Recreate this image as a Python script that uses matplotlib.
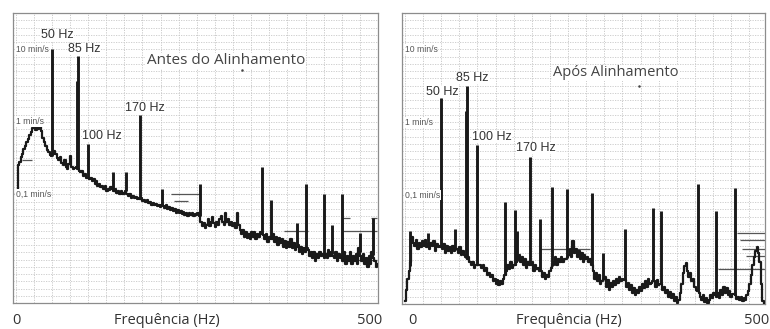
import numpy as np
import matplotlib
matplotlib.use("Agg")
from matplotlib import pyplot as plt

# espectro de 0 a 500 Hz, uma leitura a cada 2 Hz (mm/s)
freq = np.arange(0, 501, 2)

antes_amp = [
    0.10, 0.10, 0.25, 0.28, 0.33, 0.36, 0.42, 0.46, 0.52, 0.58,
    0.66, 0.72, 0.82, 0.88, 0.78, 0.92, 0.80, 0.98, 0.75, 0.60,
    0.52, 0.46, 0.41, 0.38, 0.35, 0.34, 0.36, 0.40, 0.36, 0.32,
    0.30, 0.33, 0.27, 0.25, 0.30, 0.24, 0.22, 0.26, 0.34, 0.24,
    0.22, 0.23, 0.24, 0.22, 0.21, 0.20, 0.21, 0.18, 0.19, 0.17,
    0.17, 0.16, 0.17, 0.15, 0.16, 0.14, 0.15, 0.13, 0.14, 0.125,
    0.13, 0.12, 0.13, 0.11, 0.12, 0.115, 0.125, 0.12, 0.11, 0.12,
    0.105, 0.11, 0.10, 0.11, 0.10, 0.105, 0.11, 0.10, 0.095, 0.10,
    0.09, 0.095, 0.088, 0.092, 0.085, 0.09, 0.085, 0.088, 0.08, 0.084,
    0.078, 0.082, 0.075, 0.078, 0.072, 0.076, 0.07, 0.074, 0.068, 0.072,
    0.066, 0.07, 0.068, 0.064, 0.07, 0.062, 0.066, 0.06, 0.064, 0.058,
    0.062, 0.056, 0.06, 0.055, 0.058, 0.053, 0.057, 0.052, 0.056, 0.05,
    0.055, 0.052, 0.056, 0.05, 0.054, 0.052, 0.055, 0.05, 0.042, 0.036,
    0.04, 0.034, 0.038, 0.045, 0.036, 0.042, 0.048, 0.04, 0.035, 0.042,
    0.038, 0.046, 0.05, 0.042, 0.038, 0.055, 0.042, 0.046, 0.038, 0.042,
    0.036, 0.04, 0.034, 0.055, 0.038, 0.032, 0.028, 0.032, 0.026, 0.03,
    0.025, 0.028, 0.024, 0.03, 0.026, 0.03, 0.024, 0.028, 0.026, 0.03,
    0.028, 0.027, 0.024, 0.028, 0.022, 0.026, 0.025, 0.024, 0.028, 0.022,
    0.026, 0.02, 0.025, 0.021, 0.024, 0.019, 0.023, 0.018, 0.022, 0.019,
    0.024, 0.018, 0.021, 0.017, 0.019, 0.02, 0.016, 0.019, 0.015, 0.018,
    0.016, 0.018, 0.017, 0.014, 0.016, 0.013, 0.016, 0.012, 0.015, 0.013,
    0.016, 0.014, 0.015, 0.013, 0.015, 0.013, 0.017, 0.014, 0.016, 0.014,
    0.013, 0.016, 0.012, 0.015, 0.013, 0.014, 0.012, 0.016, 0.011, 0.014,
    0.012, 0.016, 0.011, 0.014, 0.012, 0.015, 0.011, 0.018, 0.014, 0.012,
    0.015, 0.011, 0.013, 0.01, 0.014, 0.011, 0.016, 0.013, 0.012, 0.01,
    0.011,
]

apos_amp = [
    0.0035, 0.005, 0.007, 0.009, 0.012, 0.026, 0.022, 0.02, 0.024, 0.018,
    0.022, 0.019, 0.023, 0.02, 0.024, 0.019, 0.021, 0.018, 0.022, 0.02,
    0.023, 0.017, 0.021, 0.019, 0.02, 0.019, 0.018, 0.021, 0.016, 0.02,
    0.017, 0.019, 0.016, 0.02, 0.017, 0.018, 0.018, 0.016, 0.019, 0.015,
    0.017, 0.015, 0.014, 0.013, 0.014, 0.012, 0.011, 0.012, 0.010, 0.011,
    0.011, 0.011, 0.011, 0.01, 0.011, 0.009, 0.01, 0.008, 0.0085, 0.0075,
    0.008, 0.0065, 0.007, 0.006, 0.0068, 0.0058, 0.0065, 0.006, 0.007, 0.008,
    0.009, 0.011, 0.0095, 0.012, 0.01, 0.011, 0.011, 0.012, 0.013, 0.015,
    0.012, 0.014, 0.011, 0.013, 0.01, 0.012, 0.011, 0.011, 0.012, 0.009,
    0.011, 0.0095, 0.01, 0.009, 0.009, 0.0075, 0.0085, 0.007, 0.008, 0.0075,
    0.009, 0.01, 0.011, 0.012, 0.014, 0.011, 0.013, 0.012, 0.014, 0.012,
    0.013, 0.013, 0.014, 0.015, 0.018, 0.014, 0.023, 0.016, 0.018, 0.014,
    0.017, 0.013, 0.016, 0.012, 0.015, 0.013, 0.014, 0.012, 0.013, 0.011,
    0.009, 0.007, 0.0085, 0.0065, 0.008, 0.006, 0.0065, 0.007, 0.0075, 0.0055,
    0.0068, 0.005, 0.0062, 0.0055, 0.0065, 0.0058, 0.007, 0.0062, 0.0075, 0.0065,
    0.007, 0.0068, 0.0068, 0.0055, 0.0062, 0.005, 0.0058, 0.0045, 0.0052, 0.0042,
    0.005, 0.0045, 0.0055, 0.0048, 0.006, 0.0052, 0.0065, 0.0055, 0.007, 0.006,
    0.0062, 0.0065, 0.0065, 0.0055, 0.0068, 0.0058, 0.006, 0.006, 0.005, 0.0055,
    0.0045, 0.005, 0.004, 0.0046, 0.0038, 0.0043, 0.0035, 0.004, 0.0033, 0.0036,
    0.0045, 0.006, 0.0085, 0.0105, 0.0115, 0.009, 0.0075, 0.0085, 0.0065, 0.007,
    0.0055, 0.005, 0.0048, 0.0045, 0.004, 0.0036, 0.0042, 0.0034, 0.0038, 0.0033,
    0.0036, 0.0042, 0.0038, 0.0045, 0.0042, 0.004, 0.0045, 0.0038, 0.005, 0.0042,
    0.0055, 0.0045, 0.0052, 0.0042, 0.0048, 0.0039, 0.0044, 0.0043, 0.0042, 0.0037,
    0.004, 0.0036, 0.0039, 0.0035, 0.0038, 0.0036, 0.0042, 0.0048, 0.006, 0.008,
    0.011, 0.014, 0.017, 0.019, 0.016, 0.012, 0.006, 0.0035, 0.0032, 0.0032,
    0.0032,
]

# picos estreitos (Hz, mm/s)
antes_pico_freq = [50, 84.5, 86, 100, 134, 152, 172, 202, 254, 340, 352, 388, 401, 425, 437, 451, 475, 493]
antes_pico_amp = [10.0, 3.6, 8.1, 0.50, 0.2, 0.2, 1.24, 0.12, 0.14, 0.24, 0.083, 0.04, 0.14, 0.1, 0.038, 0.1, 0.029, 0.047]

apos_pico_freq = [7, 32, 50, 69, 84.5, 86, 100, 138, 152, 155, 172, 186, 203, 223, 258, 273, 303, 342, 353, 404, 429, 455]
apos_pico_amp = [0.032, 0.03, 2.13, 0.034, 1.4, 3.1, 0.49, 0.08, 0.061, 0.032, 0.33, 0.047, 0.13, 0.12, 0.106, 0.016, 0.034, 0.067, 0.06, 0.14, 0.06, 0.126]

# tracos horizontais do registo (inicio Hz, fim Hz, mm/s)
antes_traco_ini = [9, 215, 219, 370, 452, 452, 490, 470]
antes_traco_fim = [23, 256, 238, 403, 499, 462, 499, 499]
antes_traco_amp = [0.3, 0.1, 0.08, 0.031, 0.031, 0.047, 0.047, 0.0125]

apos_traco_ini = [186, 458, 462, 465, 470, 432]
apos_traco_fim = [255, 497, 497, 497, 497, 497]
apos_traco_amp = [0.018, 0.030, 0.024, 0.018, 0.0146, 0.0096]

antes_ponto = (312, 5.2)
apos_ponto = (323, 3.1)

niveis = [10, 1, 0.1]
niveis_txt = ["10 min/s", "1 min/s", "0,1 min/s"]

W, H = 770, 329


def px(x, y):
    return x / W, 1 - y / H


def painel(ax, amp, pf, pa, t0, t1, ta, ponto, xlim):
    ax.set_yscale("log")
    ax.set_xlim(*xlim)
    ax.set_ylim(10 ** -2.5, 10 ** 1.5)
    # grelha pontilhada
    for f in range(0, 501, 25):
        ax.axvline(f, color="#c4c4c4", lw=0.6, ls=(0, (1.5, 1.5)), zorder=0)
    for k in range(-25, 16):
        ax.axhline(10 ** (k / 10), color="#c8c8c8", lw=0.6, ls=(0, (1.5, 1.5)), zorder=0)
    ax.hlines(ta, t0, t1, color="#555555", lw=0.9, zorder=2)
    ax.plot(freq, amp, drawstyle="steps-mid", color="#1a1a1a", lw=1.6, zorder=3)
    pe = np.interp(pf, freq, amp)
    ax.vlines(pf, pe, pa, color="#1a1a1a", lw=2.1, zorder=3)
    ax.plot([ponto[0]], [ponto[1]], "o", ms=0.8, color="#444444")
    for v, t in zip(niveis, niveis_txt):
        ax.text(0, v, t, fontsize=6.2, color="#555555", va="center", ha="left",
                family="Liberation Sans", zorder=4,
                bbox=dict(facecolor="white", edgecolor="none", pad=0.3))
    ax.set_xticks([])
    ax.set_yticks([])
    ax.minorticks_off()
    for s in ax.spines.values():
        s.set_color("#8c8c8c")
        s.set_linewidth(0.9)


fig = plt.figure(figsize=(7.7, 3.29), dpi=100)
fig.patch.set_facecolor("white")

ax1 = fig.add_axes([13 / W, 1 - 303 / H, 365 / W, 290 / H])
ax2 = fig.add_axes([402 / W, 1 - 304 / H, 363 / W, 291 / H])

painel(ax1, antes_amp, antes_pico_freq, antes_pico_amp,
       antes_traco_ini, antes_traco_fim, antes_traco_amp, antes_ponto, (-3.45, 500))
painel(ax2, apos_amp, apos_pico_freq, apos_pico_amp,
       apos_traco_ini, apos_traco_fim, apos_traco_amp, apos_ponto, (-4.1, 496.6))

caixa = dict(facecolor="white", edgecolor="none", pad=0.5)
fig.text(*px(147, 61), "Antes do Alinhamento", fontsize=11, color="#444444",
         family="Open Sans", va="center", ha="left", bbox=caixa)
fig.text(*px(553, 73), "Após Alinhamento", fontsize=10.5, color="#444444",
         family="Open Sans", va="center", ha="left", bbox=caixa)

rotulos = [
    ("50 Hz", 57, 35), ("85 Hz", 84, 49), ("100 Hz", 102, 136), ("170 Hz", 145, 108),
    ("85 Hz", 472, 78), ("50 Hz", 442, 92), ("100 Hz", 492, 137), ("170 Hz", 536, 148),
]
for t, x, y in rotulos:
    fig.text(*px(x, y), t, fontsize=9, color="#333333", family="Liberation Sans",
             va="center", ha="center", bbox=dict(facecolor="white", edgecolor="none", pad=0.2))

eixo = [("0", 16, 320), ("Frequência (Hz)", 167, 320), ("500", 370, 320),
        ("0", 412, 320), ("Frequência (Hz)", 569, 320), ("500", 757, 320)]
for t, x, y in eixo:
    fig.text(*px(x, y), t, fontsize=10.5, color="#333333", family="Open Sans",
             va="center", ha="center")

fig.savefig("out.png", dpi=100, facecolor="white")
